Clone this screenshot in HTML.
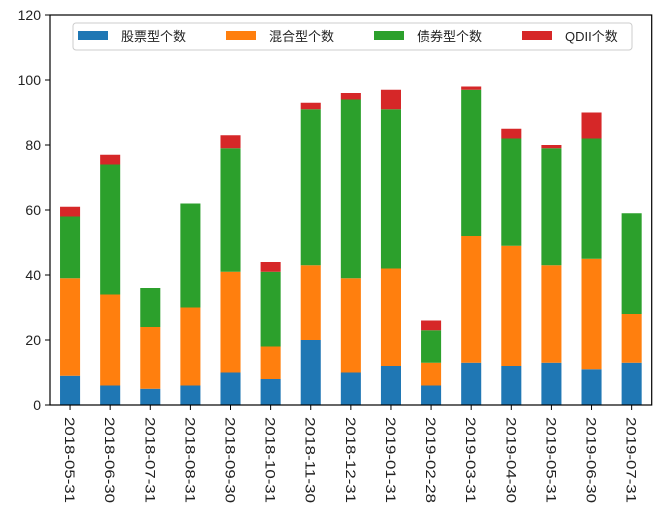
<!DOCTYPE html>
<html><head><meta charset="utf-8"><style>
body{margin:0;background:#fff;}
svg{display:block;font-family:"Liberation Sans","Noto Sans CJK SC",sans-serif;}
</style></head><body>
<svg id="chart" width="660" height="519"></svg>
<script>
const categories=["2018-05-31","2018-06-30","2018-07-31","2018-08-31","2018-09-30","2018-10-31","2018-11-30","2018-12-31","2019-01-31","2019-02-28","2019-03-31","2019-04-30","2019-05-31","2019-06-30","2019-07-31"];
const stockCounts=[9,6,5,6,10,8,20,10,12,6,13,12,13,11,13];
const mixedCounts=[30,28,19,24,31,10,23,29,30,7,39,37,30,34,15];
const bondCounts=[19,40,12,32,38,23,48,55,49,10,45,33,36,37,31];
const qdiiCounts=[3,3,0,0,4,3,2,2,6,3,1,3,1,8,0];
const seriesNames=["股票型个数","混合型个数","债券型个数","QDII个数"];
const yTicks=[0,20,40,60,80,100,120];

const NS="http://www.w3.org/2000/svg";
const svg=document.getElementById('chart');
const L=50,R=651.7,T=15,B=405,yMax=120;
const colors=["#1f77b4","#ff7f0e","#2ca02c","#d62728"];
const series=[stockCounts,mixedCounts,bondCounts,qdiiCounts];
const step=(R-L)/categories.length;
const xC=i=>L+step*(i+0.5);
const yS=v=>B-(v/yMax)*(B-T);
function mk(tag,attrs){const e=document.createElementNS(NS,tag);for(const k in attrs)e.setAttribute(k,attrs[k]);svg.appendChild(e);return e;}

const keys=["stock","mixed","bond","qdii"];
categories.forEach((c,i)=>{
  let cum=0;
  series.forEach((s,j)=>{
    const v=s[i];
    if(v>0){
      const r=mk('rect',{x:xC(i)-step/4,y:yS(cum+v),width:step/2,height:yS(cum)-yS(cum+v),fill:colors[j]});
      
      
    }
    cum+=v;
  });
  const t=mk('line',{x1:xC(i),x2:xC(i),y1:B,y2:B+5,stroke:'#000','stroke-width':1});
  
  
  const lb=mk('text',{x:0,y:0,'font-size':14,fill:'#222','dominant-baseline':'central',textLength:86,lengthAdjust:'spacingAndGlyphs',transform:`translate(${xC(i)},${B+12}) rotate(90)`});
  lb.textContent=c;
  
  
});
yTicks.forEach(v=>{
  const t=mk('line',{x1:L-5,x2:L,y1:yS(v),y2:yS(v),stroke:'#000','stroke-width':1});
  
  
  const lb=mk('text',{x:L-9,y:yS(v)+5,'font-size':14,fill:'#222','text-anchor':'end'});
  lb.textContent=v;
  
  
});
const frame=mk('rect',{x:L,y:T,width:R-L,height:B-T,fill:'none',stroke:'#000','stroke-width':1.2});


const lg=mk('rect',{x:73,y:23,width:559,height:27,rx:3,fill:'#fff',stroke:'#ccc','stroke-width':1});


seriesNames.forEach((n,j)=>{
  const x0=78+j*148;
  const p=mk('rect',{x:x0,y:31,width:30,height:9,fill:colors[j]});
  
  
  const t=mk('text',{x:x0+43,y:41,'font-size':13,fill:'#222'});
  t.textContent=n;
  
  
});
</script>
</body></html>
